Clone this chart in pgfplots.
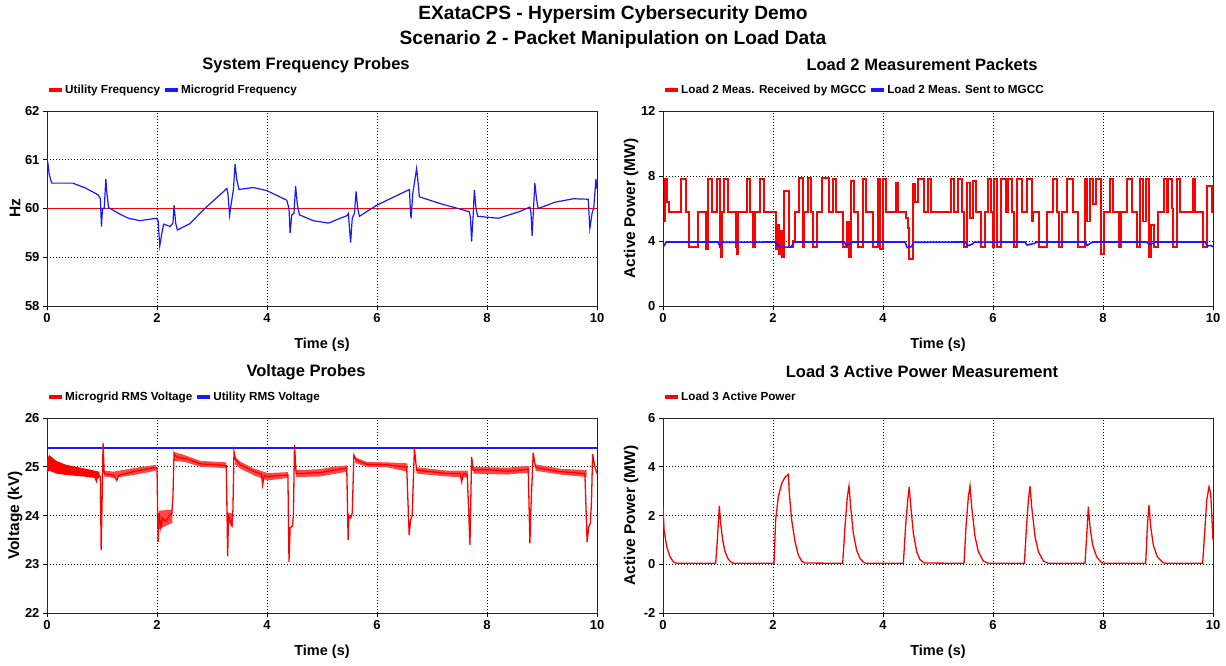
\documentclass[border=0pt]{standalone}
\usepackage{fontspec}
\setmainfont{Liberation Sans}
\usepackage{pgfplots}
\pgfplotsset{compat=1.18}

\definecolor{hsred}{RGB}{255,0,0}
\definecolor{hsblue}{RGB}{25,25,255}

\pgfplotsset{
  hs/.style={
    scale only axis, width=550pt, height=195pt,
    xmin=0, xmax=10, xtick={0,2,4,6,8,10}, xticklabels={0,2,4,6,8,10},
    tick align=outside, tick pos=left, major tick length=4pt,
    grid=major,
    major grid style={black, line width=0.9pt, dash pattern=on 0.9pt off 2.1pt},
    axis line style={black!85, line width=0.9pt},
    every tick/.style={black, line width=0.9pt},
    tick label style={font=\fontsize{13}{13}\selectfont\bfseries},
    xlabel={Time (s)},
    xlabel style={font=\fontsize{14.5}{15}\selectfont\bfseries, at={(axis description cs:0.5,-0.2)}, anchor=center},
    ylabel style={font=\fontsize{15.5}{16}\selectfont\bfseries, at={(axis description cs:-0.058,0.5)}, anchor=center},
    title style={font=\fontsize{16.5}{17}\selectfont\bfseries, at={(axis description cs:0.471,1.205)}, anchor=center},
    legend style={at={(axis description cs:0,1.108)}, anchor=west, draw=none, fill=none,
      font=\fontsize{11.7}{12}\selectfont\bfseries, legend columns=-1,
      inner sep=0pt, nodes={inner sep=1pt},
      /tikz/every even column/.append style={column sep=2pt}},
    legend image code/.code={\draw[#1, line width=4pt] (0pt,0pt) -- (13pt,0pt);},
  },
  band/.style={draw=none, fill=hsred!72, forget plot},
}

\begin{document}
\begin{tikzpicture}
\useasboundingbox (0pt,0pt) rectangle (1226pt,666pt);
\node[font=\fontsize{19.2}{20}\selectfont\bfseries] at (613pt,651pt) {EXataCPS - Hypersim Cybersecurity Demo};
\node[font=\fontsize{19.2}{20}\selectfont\bfseries] at (613pt,626pt) {Scenario 2 - Packet Manipulation on Load Data};

%%%%%%%% system frequency %%%%%%%%
\begin{axis}[hs, at={(47pt,360pt)}, anchor=south west,
  ymin=58, ymax=62, ytick={58,59,60,61,62}, yticklabels={58,59,60,61,62},
  ylabel={Hz}, title={System Frequency Probes}]
\addlegendimage{hsred}\addlegendentry{Utility Frequency}
\addlegendimage{hsblue}\addlegendentry{Microgrid Frequency}
\addplot[hsred, line width=1.8pt, forget plot] coordinates {(0,60.0)(10,60.0)};
\addplot[hsblue, line width=1.2pt, forget plot] coordinates {
(0,61.03)(0.02,60.9)(0.04,60.7)(0.085,60.52)(0.30,60.52)(0.47,60.52)(0.70,60.42)(0.93,60.28)
(0.97,60.2)(0.99,59.63)(1.01,60.0)(1.04,60.0)(1.07,60.6)(1.09,60.3)(1.12,60.02)(1.30,59.9)
(1.48,59.8)(1.69,59.75)(1.99,59.8)(2.02,59.75)(2.05,59.23)(2.09,59.5)(2.12,59.68)(2.24,59.63)
(2.29,59.7)(2.31,60.07)(2.34,59.7)(2.37,59.56)(2.6,59.69)(2.84,59.97)(3.27,60.41)(3.29,60.3)
(3.32,59.86)(3.35,60.1)(3.39,60.4)(3.42,60.91)(3.45,60.6)(3.49,60.39)(3.75,60.43)(3.99,60.37)
(4.36,60.17)(4.40,60.0)(4.42,59.5)(4.45,59.87)(4.49,59.9)(4.52,60.46)(4.55,60.1)(4.59,59.87)
(4.84,59.75)(5.12,59.7)(5.33,59.8)(5.45,59.85)(5.48,59.9)(5.52,59.3)(5.55,59.8)(5.59,59.9)
(5.62,60.35)(5.65,60.0)(5.68,59.84)(6.0,60.07)(6.59,60.39)(6.61,59.9)(6.62,59.8)(6.65,60.3)
(6.72,60.82)(6.75,60.5)(6.77,60.24)(7.15,60.1)(7.57,59.97)(7.68,59.93)(7.70,59.8)(7.72,59.32)
(7.75,59.9)(7.77,60.38)(7.80,60.0)(7.83,59.84)(8.21,59.8)(8.6,59.94)(8.78,60.03)(8.80,59.9)
(8.82,59.44)(8.85,60.1)(8.87,60.52)(8.90,60.2)(8.93,60.0)(9.24,60.13)(9.57,60.2)(9.84,60.19)
(9.87,59.59)(9.91,59.9)(9.94,60.0)(9.98,60.6)(10.0,60.4)};
\end{axis}

%%%%%%%% load 2 packets %%%%%%%%
\begin{axis}[hs, at={(663pt,360pt)}, anchor=south west,
  ymin=0, ymax=12, ytick={0,4,8,12}, yticklabels={0,4,8,12},
  ylabel={Active Power (MW)}, title={Load 2 Measurement Packets}]
\addlegendimage{hsred}\addlegendentry{Load 2 Meas. Received by MGCC}
\addlegendimage{hsblue}\addlegendentry{Load 2 Meas. Sent to MGCC}
\addplot[draw=hsred, line width=1.8pt, const plot, forget plot] coordinates {
(0.000,5.2)(0.030,7.8)(0.079,6.4)(0.103,5.8)(0.333,7.8)(0.424,5.8)(0.479,3.65)(0.630,5.8)
(0.788,3.5)(0.824,7.8)(0.891,5.8)(0.982,7.8)(1.030,3.65)(1.061,3.0)(1.079,5.8)(1.115,7.8)
(1.188,5.8)(1.327,3.65)(1.352,3.2)(1.370,5.8)(1.533,7.8)(1.588,5.8)(1.636,3.65)(1.679,5.8)
(1.770,7.8)(1.830,5.8)(2.061,3.5)(2.085,5.0)(2.109,3.2)(2.139,4.6)(2.164,3.0)(2.194,7.1)
(2.297,3.65)(2.370,4.0)(2.400,5.8)(2.473,7.9)(2.539,3.65)(2.570,5.8)(2.642,7.9)(2.691,5.8)
(2.733,3.65)(2.794,5.8)(2.885,7.9)(3.012,5.8)(3.097,7.8)(3.145,5.8)(3.279,3.65)(3.339,5.2)
(3.388,3.0)(3.418,7.7)(3.479,5.8)(3.539,3.65)(3.630,7.8)(3.697,5.8)(3.818,3.65)(3.915,7.8)
(3.952,3.5)(4.000,7.8)(4.061,5.8)(4.230,7.6)(4.267,5.8)(4.412,5.4)(4.448,4.8)(4.479,2.9)
(4.539,7.5)(4.582,6.4)(4.630,7.8)(4.739,5.8)(4.812,7.8)(4.873,5.8)(5.236,7.8)(5.285,5.8)
(5.370,7.8)(5.430,5.8)(5.479,3.65)(5.521,7.6)(5.576,5.4)(5.642,7.7)(5.697,5.8)(5.782,3.65)
(5.855,5.8)(5.903,7.8)(5.964,5.8)(6.000,3.65)(6.024,7.8)(6.073,3.65)(6.139,7.8)(6.230,5.8)
(6.279,7.8)(6.339,5.8)(6.388,3.65)(6.442,7.8)(6.521,5.8)(6.612,7.8)(6.703,5.2)(6.733,5.8)
(6.842,3.65)(6.976,5.8)(7.085,7.8)(7.170,5.8)(7.206,3.65)(7.248,5.8)(7.339,7.8)(7.461,5.8)
(7.552,3.65)(7.673,7.8)(7.715,5.2)(7.764,7.8)(7.824,6.3)(7.867,7.8)(7.958,3.2)(8.018,5.8)
(8.127,7.8)(8.188,5.8)(8.291,3.65)(8.327,5.8)(8.430,7.8)(8.527,5.8)(8.612,3.65)(8.673,7.8)
(8.733,5.2)(8.782,7.8)(8.830,3.0)(8.873,5.0)(8.933,3.65)(9.006,5.8)(9.115,7.8)(9.158,5.8)
(9.188,7.8)(9.248,6.0)(9.279,3.65)(9.339,7.8)(9.400,5.8)(9.642,7.8)(9.673,5.8)(9.824,3.65)
(9.885,7.4)(9.976,5.8)(10.0,5.8)};
\addplot[draw=hsblue, line width=1.6pt, forget plot] coordinates {
(0,3.62)(0.06,3.94)(1.00,3.94)(1.03,3.72)(1.08,3.92)(2.04,3.94)(2.09,3.70)(2.14,3.62)
(2.33,3.62)(2.38,3.94)(3.30,3.94)(3.33,3.72)(3.42,3.88)(3.45,3.94)(4.40,3.94)(4.44,3.60)
(4.52,3.65)(4.56,3.92)(5.50,3.94)(5.53,3.70)(5.62,3.80)(5.66,3.93)(6.58,3.94)(6.62,3.75)
(6.75,3.85)(6.80,3.94)(7.68,3.94)(7.71,3.72)(7.78,3.88)(7.82,3.94)(8.80,3.94)(8.84,3.78)
(8.90,3.85)(8.94,3.94)(9.86,3.94)(9.89,3.70)(9.96,3.72)(10,3.65)};
\end{axis}

%%%%%%%% voltage probes %%%%%%%%
\begin{axis}[hs, at={(47pt,53pt)}, anchor=south west,
  ymin=22, ymax=26, ytick={22,23,24,25,26}, yticklabels={22,23,24,25,26},
  ylabel={Voltage (kV)}, title={Voltage Probes}]
\addlegendimage{hsred}\addlegendentry{Microgrid RMS Voltage}
\addlegendimage{hsblue}\addlegendentry{Utility RMS Voltage}
\addplot[draw=hsblue, line width=1.6pt, forget plot] coordinates {(0,25.39)(10,25.39)};
\addplot[draw=none, fill=hsred, forget plot] coordinates {
(0,25.15)(0.04,25.24)(0.17,25.12)(0.35,25.04)(0.66,24.97)(0.95,24.90)
(0.95,24.76)(0.66,24.80)(0.35,24.83)(0.17,24.86)(0.04,24.92)(0,24.88)};
\addplot[band] coordinates {(1.04,24.92)(1.21,24.90)(1.57,24.97)(1.99,25.04)(1.99,24.92)(1.57,24.83)(1.21,24.77)(1.04,24.80)};
\addplot[band] coordinates {(2.04,24.10)(2.28,24.12)(2.28,23.85)(2.04,23.72)};
\addplot[band] coordinates {(2.31,25.30)(2.5,25.24)(2.79,25.12)(3.26,25.09)(3.26,24.97)(2.79,25.0)(2.5,25.10)(2.31,25.12)};
\addplot[band] coordinates {(3.30,24.05)(3.38,24.05)(3.38,23.75)(3.30,23.85)};
\addplot[band] coordinates {(3.42,25.20)(3.52,25.10)(3.77,24.96)(4.01,24.87)(4.38,24.89)(4.38,24.77)(4.01,24.72)(3.77,24.82)(3.52,24.96)(3.42,25.05)};
\addplot[band] coordinates {(4.53,24.93)(4.96,24.95)(5.21,25.0)(5.46,25.03)(5.46,24.90)(5.21,24.85)(4.96,24.80)(4.53,24.79)};
\addplot[band] coordinates {(5.60,25.20)(5.81,25.10)(6.18,25.09)(6.55,25.07)(6.55,24.90)(6.18,24.99)(5.81,25.0)(5.60,25.08)};
\addplot[band] coordinates {(6.72,24.99)(7.27,24.92)(7.65,24.92)(7.65,24.78)(7.27,24.80)(6.72,24.86)};
\addplot[band] coordinates {(7.75,25.0)(8.36,24.98)(8.77,25.02)(8.77,24.88)(8.36,24.84)(7.75,24.86)};
\addplot[band] coordinates {(8.88,25.05)(9.33,24.96)(9.81,24.93)(9.81,24.79)(9.33,24.84)(8.88,24.92)};
\addplot[draw=hsred, line width=1.3pt, forget plot] coordinates {
(0.00,25.05)(0.04,25.18)(0.10,25.10)(0.20,25.03)(0.35,24.96)(0.50,24.92)(0.66,24.88)(0.85,24.84)
(0.90,24.70)(0.93,24.84)(0.97,24.80)(0.985,23.29)(0.995,23.90)(1.02,25.48)(1.04,24.86)(1.10,24.84)
(1.21,24.83)(1.27,24.72)(1.30,24.82)(1.57,24.90)(1.94,24.98)(2.00,24.98)(2.02,23.46)(2.04,24.05)
(2.07,23.75)(2.10,23.95)(2.15,23.88)(2.22,23.98)(2.27,24.05)(2.29,24.40)(2.31,25.28)(2.35,25.20)
(2.55,25.16)(2.79,25.06)(3.10,25.04)(3.26,25.02)(3.285,23.16)(3.30,24.00)(3.33,23.90)(3.36,23.80)
(3.38,24.10)(3.40,25.31)(3.43,25.14)(3.52,25.04)(3.77,24.90)(3.90,24.85)(3.92,24.63)(3.95,24.82)
(4.01,24.80)(4.38,24.83)(4.40,23.05)(4.42,23.75)(4.46,23.78)(4.48,24.00)(4.50,25.45)(4.53,24.86)
(4.60,24.86)(4.96,24.88)(5.21,24.93)(5.45,24.97)(5.475,23.50)(5.49,24.00)(5.52,23.95)(5.55,24.05)
(5.58,25.24)(5.62,25.14)(5.81,25.05)(6.18,25.04)(6.54,24.99)(6.585,23.60)(6.61,23.90)(6.64,24.00)
(6.68,25.38)(6.72,24.93)(6.90,24.91)(7.27,24.86)(7.51,24.86)(7.54,24.69)(7.57,24.86)(7.64,24.84)
(7.665,24.15)(7.69,23.40)(7.72,25.20)(7.75,24.93)(7.99,24.94)(8.36,24.91)(8.60,24.93)(8.75,24.95)
(8.78,23.43)(8.80,24.20)(8.84,25.29)(8.88,25.00)(8.96,24.97)(9.33,24.90)(9.78,24.86)(9.82,23.46)
(9.85,23.77)(9.88,23.85)(9.90,24.30)(9.92,25.26)(9.96,25.00)(10.0,24.86)};
\end{axis}

%%%%%%%% load 3 active power %%%%%%%%
\begin{axis}[hs, at={(663pt,53pt)}, anchor=south west,
  ymin=-2, ymax=6, ytick={-2,0,2,4,6}, yticklabels={-2,0,2,4,6},
  ylabel={Active Power (MW)}, title={Load 3 Active Power Measurement}]
\addlegendimage{hsred}\addlegendentry{Load 3 Active Power}
\addplot[draw=hsred, line width=1.3pt, forget plot] coordinates {
(0,2.36)(0.02,1.4)(0.067,0.72)(0.127,0.31)(0.188,0.1)(0.25,0.04)(0.958,0.04)(0.988,0.98)
(1.024,2.39)(1.048,1.68)(1.085,1.0)(1.127,0.52)(1.188,0.2)(1.25,0.06)(1.3,0.04)(2.018,0.04)
(2.048,1.82)(2.097,2.77)(2.158,3.32)(2.218,3.57)(2.279,3.69)(2.297,2.9)(2.339,1.82)(2.4,0.93)
(2.46,0.38)(2.52,0.13)(2.58,0.05)(3.267,0.04)(3.309,1.54)(3.351,2.77)(3.382,3.21)(3.412,2.36)
(3.46,1.27)(3.52,0.58)(3.58,0.24)(3.655,0.06)(3.7,0.04)(4.37,0.04)(4.41,1.54)(4.448,2.6)
(4.476,3.17)(4.506,2.36)(4.552,1.27)(4.612,0.52)(4.67,0.2)(4.75,0.05)(5.473,0.04)(5.509,1.54)
(5.552,2.77)(5.582,3.21)(5.612,2.36)(5.673,1.13)(5.733,0.52)(5.824,0.13)(5.915,0.04)(6.57,0.04)
(6.612,1.64)(6.642,2.6)(6.673,3.21)(6.703,2.36)(6.764,1.13)(6.824,0.52)(6.915,0.13)(7.006,0.04)
(7.673,0.04)(7.715,1.6)(7.733,2.36)(7.764,1.54)(7.812,0.78)(7.885,0.3)(7.976,0.06)(8.05,0.04)
(8.776,0.04)(8.806,1.54)(8.836,2.43)(8.867,1.54)(8.915,0.78)(8.988,0.3)(9.097,0.06)(9.15,0.04)
(9.812,0.04)(9.855,1.54)(9.885,2.6)(9.927,3.18)(9.958,2.9)(10.0,0.99)};
\end{axis}
\end{tikzpicture}
\end{document}
